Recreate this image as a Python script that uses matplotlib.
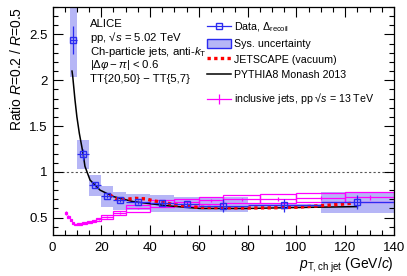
import numpy as np
import matplotlib
matplotlib.use('Agg')
import matplotlib.pyplot as plt
from matplotlib.patches import Rectangle, Patch
from matplotlib.lines import Line2D
from matplotlib.ticker import MultipleLocator, FuncFormatter

plt.rcParams['font.family'] = ['Liberation Sans', 'DejaVu Sans']
plt.rcParams['mathtext.fontset'] = 'custom'
plt.rcParams['mathtext.rm'] = 'Liberation Sans'
plt.rcParams['mathtext.it'] = 'Liberation Sans:italic'
plt.rcParams['mathtext.bf'] = 'Liberation Sans:bold'
plt.rcParams['mathtext.sf'] = 'Liberation Sans'

# ---------------- data ----------------
data_lo = [7, 10, 15, 20, 25, 30, 40, 50, 60, 80, 110]
data_hi = [10, 15, 20, 25, 30, 40, 50, 60, 80, 110, 140]
data_y = [2.44, 1.19, 0.86, 0.74, 0.69, 0.67, 0.66, 0.645, 0.63, 0.635, 0.67]
data_stat = [0.155, 0.06, 0.03, 0.025, 0.02, 0.02, 0.025, 0.03, 0.07, 0.07, 0.08]
data_sys_lo = [2.04, 1.03, 0.74, 0.62, 0.585, 0.58, 0.56, 0.56, 0.56, 0.62, 0.555]
data_sys_hi = [2.95, 1.35, 0.97, 0.84, 0.785, 0.76, 0.75, 0.72, 0.72, 0.65, 0.775]

pythia_x = [8.0, 8.3, 9.2, 10.0, 11.0, 12.6, 13.3, 15.4, 19.5, 24.9, 33.0, 46.8, 60.5, 80.0, 100.0, 125.0]
pythia_y = [2.10, 2.04, 1.79, 1.60, 1.42, 1.19, 1.06, 0.91, 0.80, 0.73, 0.675, 0.63, 0.60, 0.60, 0.61, 0.62]

jetscape_x = [23.5, 25, 27, 30, 34, 38, 42, 46, 50, 55, 60, 70, 80, 90, 100, 110, 118, 124]
jetscape_y = [0.75, 0.72, 0.695, 0.70, 0.71, 0.705, 0.68, 0.665, 0.64, 0.625, 0.612, 0.608, 0.605,
              0.607, 0.613, 0.63, 0.645, 0.66]

incl_lo = [5, 6, 7, 8, 9, 10, 12, 14, 16, 18, 20, 25, 30, 40, 50, 60, 70, 85, 100, 120]
incl_hi = [6, 7, 8, 9, 10, 12, 14, 16, 18, 20, 25, 30, 40, 50, 60, 70, 85, 100, 120, 140]
incl_y = [0.55, 0.51, 0.47, 0.445, 0.425, 0.43, 0.44, 0.45, 0.465, 0.48, 0.505, 0.55, 0.60,
          0.655, 0.67, 0.69, 0.70, 0.705, 0.715, 0.72]
incl_stat = [0.02, 0.015, 0.012, 0.01, 0.01, 0.008, 0.008, 0.008, 0.008, 0.008, 0.008, 0.008,
             0.01, 0.01, 0.012, 0.015, 0.015, 0.02, 0.02, 0.025]
incl_sys = [0.01, 0.01, 0.01, 0.01, 0.01, 0.012, 0.012, 0.012, 0.012, 0.015, 0.018, 0.02,
            0.035, 0.035, 0.038, 0.04, 0.045, 0.05, 0.05, 0.055]

blue = '#2b2bf0'
band = '#b6b6f6'
magenta = '#ff00ff'

fig = plt.figure(figsize=(4.07, 2.76), dpi=100)
ax = fig.add_axes([52.5/407, 1-235/276, (394-52.5)/407, (235-7)/276])

# sys bands data
for lo, hi, sl, sh in zip(data_lo, data_hi, data_sys_lo, data_sys_hi):
    ax.add_patch(Rectangle((lo, sl), hi-lo, sh-sl, facecolor=band, edgecolor='none', zorder=1))

# reference line at 1
ax.axhline(1.0, color='#555555', lw=0.8, ls=(0, (2, 2)), zorder=0.5)

# inclusive jets sys boxes
for lo, hi, y, s in zip(incl_lo, incl_hi, incl_y, incl_sys):
    ax.add_patch(Rectangle((lo, y-s), hi-lo, 2*s, facecolor='none', edgecolor=magenta, lw=0.9, zorder=2))
ix = [(a+b)/2 for a, b in zip(incl_lo, incl_hi)]
ixe = [(b-a)/2 for a, b in zip(incl_lo, incl_hi)]
ax.errorbar(ix, incl_y, xerr=ixe, yerr=incl_stat, fmt='none', ecolor=magenta, elinewidth=0.9, zorder=2.1)

# models
ax.plot(pythia_x, pythia_y, color='black', lw=1.1, zorder=3)
ax.plot(jetscape_x, jetscape_y, color='red', lw=2.4, ls=(0, (1, 1)), zorder=3.5)

# data
dx = [(a+b)/2 for a, b in zip(data_lo, data_hi)]
dxe = [(b-a)/2 for a, b in zip(data_lo, data_hi)]
ax.errorbar(dx, data_y, xerr=dxe, yerr=data_stat, fmt='s', ms=5, mfc='none', mec=blue, mew=1.0,
            ecolor=blue, elinewidth=0.9, zorder=4)

ax.set_xlim(0, 140)
ax.set_ylim(0.31, 2.8)
ax.xaxis.set_major_locator(MultipleLocator(20))
ax.xaxis.set_minor_locator(MultipleLocator(5))
ax.yaxis.set_major_locator(MultipleLocator(0.5))
ax.yaxis.set_minor_locator(MultipleLocator(0.1))
ax.yaxis.set_major_formatter(FuncFormatter(lambda v, p: '%g' % v))
ax.tick_params(which='both', direction='in', top=True, right=True, labelsize=9.5)
ax.tick_params(which='major', length=7, width=0.8)
ax.tick_params(which='minor', length=3.5, width=0.8)
ax.tick_params(axis='x', pad=5)
for s in ax.spines.values():
    s.set_linewidth(0.9)

ax.set_ylabel('Ratio $R$=0.2 / $R$=0.5', fontsize=10, loc='top')
ax.set_xlabel(r'$p_{\mathrm{T,ch\ jet}}$ (GeV/$c$)', fontsize=10, loc='right', labelpad=1.0)

# text block
tx = (90-52.5)/341.5
lines = ['ALICE', 'pp, √$s$ = 5.02 TeV', r'Ch-particle jets, anti-$k_{\mathrm{T}}$',
         r'$|\Delta\varphi - \pi|$ < 0.6', 'TT{20,50} − TT{5,7}']
for i, t in enumerate(lines):
    ax.text(tx, 1 - (24 - 7 + i*13.8)/228, t, transform=ax.transAxes, fontsize=8.2,
            va='center', ha='left')

# legends
lfs = 7.7
h1 = [Line2D([], [], color=blue, marker='s', mfc='none', mec=blue, ms=5, lw=0.9),
      Patch(facecolor=band, edgecolor=blue, lw=1.0),
      Line2D([], [], color='red', lw=2.4, ls=(0, (1, 1))),
      Line2D([], [], color='black', lw=1.1)]
l1 = [r'Data, $\Delta_{\mathrm{recoil}}$', 'Sys. uncertainty', 'JETSCAPE (vacuum)', 'PYTHIA8 Monash 2013']
leg1 = ax.legend(h1, l1, loc='upper left', bbox_to_anchor=((207-52.5)/341.5, 1-(20.5-7)/228),
                 frameon=False, fontsize=lfs, borderpad=0, borderaxespad=0, handlelength=2.2,
                 handletextpad=0.35, labelspacing=0.45, handleheight=1.0)
ax.add_artist(leg1)
h2 = [Line2D([], [], color=magenta, marker='|', ms=7, mew=0.9, lw=0.9)]
leg2 = ax.legend(h2, ['inclusive jets, pp √$s$ = 13 TeV'], loc='upper left',
                 bbox_to_anchor=((207-52.5)/341.5, 1-(91.5-7)/228), frameon=False, fontsize=lfs,
                 borderpad=0, borderaxespad=0, handlelength=2.2, handletextpad=0.35)

fig.savefig('out.png', dpi=100)
